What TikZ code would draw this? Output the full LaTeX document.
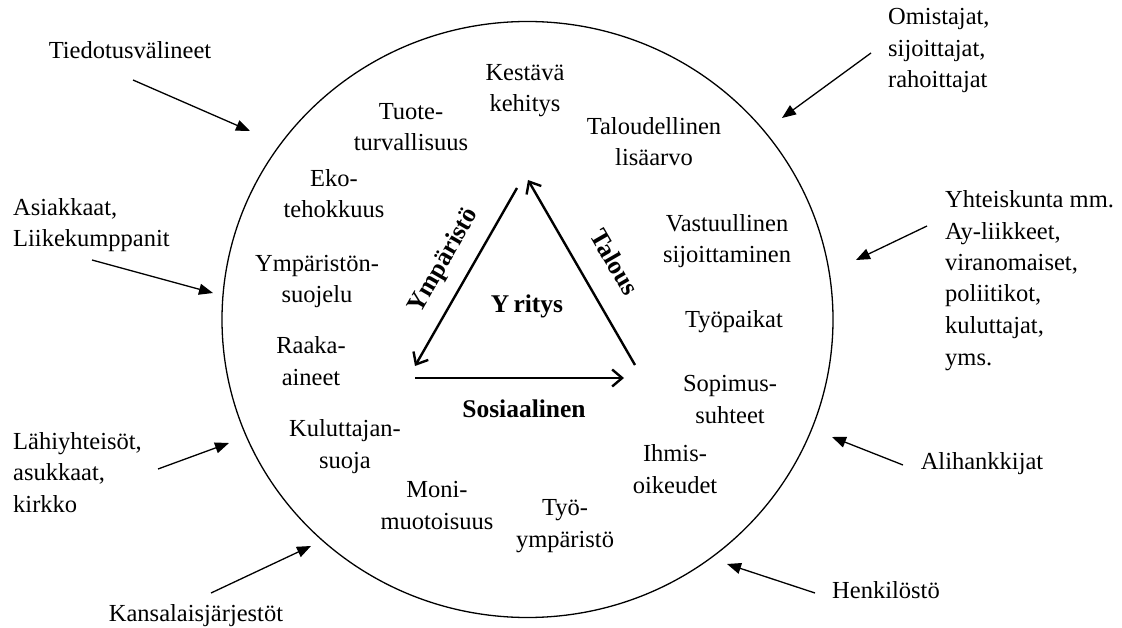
\documentclass[tikz,border=0pt]{standalone}
\usepackage{fontspec}
\setmainfont{Liberation Serif}
\usetikzlibrary{arrows.meta}
\begin{document}
\begin{tikzpicture}[x=1pt,y=-1pt,
  font=\fontsize{24.5}{31.5}\selectfont,
  lbl/.style={inner sep=0pt, align=center, anchor=base},
  lbll/.style={inner sep=0pt, align=left, anchor=base west},
  outarrow/.style={line width=1.3pt, -{Triangle[length=14pt,width=11pt]}},
  triarrow/.style={line width=2.4pt, -{Straight Barb[length=10pt,width=17pt,line width=2.4pt]}},
  trilbl/.style={inner sep=0pt, font=\fontsize{25.5}{30}\selectfont\bfseries}]
\useasboundingbox (0,0) rectangle (1122,628);

% big circle
\draw[line width=1.3pt] (527.5,319.5) ellipse [x radius=305.5pt, y radius=298pt];

% triangle
\coordinate (tA1) at (517,188); \coordinate (tB1) at (415,366);
\coordinate (tB2) at (415,378); \coordinate (tC2) at (624,378);
\coordinate (tC3) at (635,365); \coordinate (tA3) at (528,180);
\draw[triarrow] (tA1) -- (tB1);
\draw[triarrow] (tB2) -- (tC2);
\draw[triarrow] (tC3) -- (tA3);
\node[trilbl, rotate=60] (ymp) at (444,261) {Ympäristö};
\node[trilbl, rotate=-60] (tal) at (615,262) {Talous};
\node[trilbl, anchor=base] (yri) at (527,313) {Y\,ritys};
\node[trilbl, anchor=base] (sos) at (524,417) {Sosiaalinen};

% inner labels (anchored at the baseline of the last line)
\node[lbl] (kes) at (525,112) {Kestävä\\kehitys};
\node[lbl] (tuo) at (411,151) {Tuote-\\turvallisuus};
\node[lbl] (tlv) at (654,166) {Taloudellinen\\lisäarvo};
\node[lbl] (eko) at (334,218) {Eko-\\tehokkuus};
\node[lbl] (vas) at (727,263) {Vastuullinen\\sijoittaminen};
\node[lbl] (yms) at (317,303) {Ympäristön-\\suojelu};
\node[lbl] (typ) at (734,327) {Työpaikat};
\node[lbl] (raa) at (311,385) {Raaka-\\aineet};
\node[lbl] (sop) at (730,423) {Sopimus-\\suhteet};
\node[lbl] (kul) at (345,468) {Kuluttajan-\\suoja};
\node[lbl] (ihm) at (675,493) {Ihmis-\\oikeudet};
\node[lbl] (mon) at (437,529) {Moni-\\muotoisuus};
\node[lbl] (tyy) at (565,547) {Työ-\\ympäristö};

% outer labels
\node[lbl] (tie) at (130,59) {Tiedotusvälineet};
\node[lbll] (omi) at (888,88) {Omistajat,\\sijoittajat,\\rahoittajat};
\node[lbll] (asi) at (13,247) {Asiakkaat,\\Liikekumppanit};
\node[lbll] (yht) at (945,365) {Yhteiskunta mm.\\Ay-liikkeet,\\viranomaiset,\\poliitikot,\\kuluttajat,\\yms.};
\node[lbll] (lah) at (13,512) {Lähiyhteisöt,\\asukkaat,\\kirkko};
\node[lbl] (ali) at (982,469) {Alihankkijat};
\node[lbl] (kan) at (196,621) {Kansalaisjärjestöt};
\node[lbl] (hen) at (886,598) {Henkilöstö};

% outer arrows
\coordinate (s1) at (133,80);  \coordinate (e1) at (250,131);
\coordinate (s2) at (871,53);  \coordinate (e2) at (782,118);
\coordinate (s3) at (92,260);  \coordinate (e3) at (213,293);
\coordinate (s4) at (927,226); \coordinate (e4) at (856,260);
\coordinate (s5) at (158,469); \coordinate (e5) at (229,443);
\coordinate (s6) at (903,465); \coordinate (e6) at (832,437);
\coordinate (s7) at (211,593); \coordinate (e7) at (311,546);
\coordinate (s8) at (815,593); \coordinate (e8) at (727,564);
\foreach \i in {1,...,8} \draw[outarrow] (s\i) -- (e\i);
\end{tikzpicture}
\end{document}
